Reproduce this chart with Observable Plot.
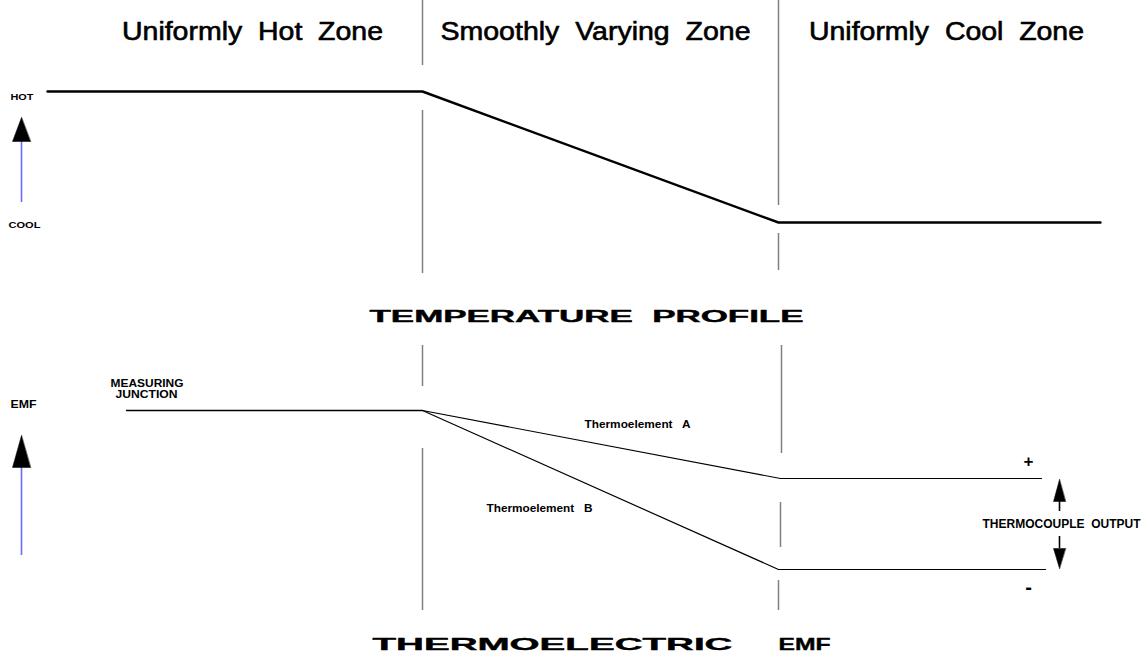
<!DOCTYPE html>
<html>
<head>
<meta charset="utf-8">
<script src="https://cdn.jsdelivr.net/npm/d3@7"></script>
<script src="https://cdn.jsdelivr.net/npm/@observablehq/plot@0.6"></script>
<style>
  html, body { margin: 0; padding: 0; background: #fff; }
  svg text { white-space: pre; }
</style>
</head>
<body>
<div id="chart"></div>
<script>
// ---- Data (diagram units) ----
const zoneLabels  = ["Uniformly  Hot  Zone", "Smoothly  Varying  Zone", "Uniformly  Cool  Zone"];
const zoneCenterX = [252, 595, 946];
const zoneLabelWidths = [261, 310, 275];

// zone boundary dashes: [x, y1, y2]
const boundaryA = [[422, 0, 65], [422, 110, 273], [422, 345, 386], [422, 448, 610]];
const boundaryB = [[778, 0, 205], [778, 233, 270], [781, 345, 453], [780, 502, 547], [778, 580, 610]];

// temperature profile
const tempX = [47, 422, 778, 1100];
const tempY = [91, 91, 222, 222];

// EMF profiles
const junctionX = [126, 422];
const junctionY = [410, 410];
const elemAX = [422, 780, 1041];
const elemAY = [410, 478, 478];
const elemBX = [422, 778, 1045];
const elemBY = [410, 569, 569];

// arrows: [x, tipY, baseY, stemEndY, halfWidth]
const axisArrows   = [[21, 117, 141, 202, 9], [21, 435, 467, 555, 9]];
const outputArrows = [[1059, 479, 501, 511, 6], [1059, 568, 548, 536, 6]];

// text labels: [text, x, y, size, width]
const smallLabels = [
  ["HOT", 21.5, 97, 8.5, 23],
  ["COOL", 24, 225, 8.5, 32],
  ["EMF", 23, 404, 11, 26],
  ["MEASURING", 146.5, 383, 11, 73],
  ["JUNCTION", 146, 394, 11, 62],
  ["Thermoelement   A", 637, 424, 10, 106],
  ["Thermoelement   B", 539, 508, 10, 106],
  ["THERMOCOUPLE  OUTPUT", 1061, 523, 12.5, 158],
  ["+", 1028, 461, 17, 0],
  ["-", 1028, 587, 20, 0]
];
const titles = [
  ["TEMPERATURE  PROFILE", 586, 316, 16, 434],
  ["THERMOELECTRIC", 552, 644, 17, 360],
  ["EMF", 804, 644, 17, 52]
];

// ---- build tables ----
const pts = (xs, ys, name) => xs.map((x, i) => ({x, y: ys[i], name}));
const boundaries = [...boundaryA, ...boundaryB].map(([x, y1, y2]) => ({x, y1, y2}));
const heads = [];
const stems = [];
[...axisArrows.map(a => [...a, "axis"]), ...outputArrows.map(a => [...a, "out"])].forEach(([x, tip, base, end, hw, kind], i) => {
  heads.push({x: x, y: tip, id: i}, {x: x - hw, y: base, id: i}, {x: x + hw, y: base, id: i});
  stems.push({x, y1: base, y2: end, kind});
});
const zoneTable = zoneLabels.map((t, i) => ({t, x: zoneCenterX[i], y: 31, w: zoneLabelWidths[i]}));
const smallTable = smallLabels.map(([t, x, y, s, w]) => ({t, x, y, s, w}));
const titleTable = titles.map(([t, x, y, s, w]) => ({t, x, y, s, w}));

const chart = Plot.plot({
  width: 1146,
  height: 658,
  margin: 0,
  x: {domain: [0, 1146], axis: null},
  y: {domain: [0, 658], range: [0, 658], axis: null},
  style: {fontFamily: "Liberation Sans, Arial, sans-serif", background: "#fff"},
  marks: [
    Plot.ruleX(boundaries, {x: "x", y1: "y1", y2: "y2", stroke: "#808080", strokeWidth: 1.5}),
    Plot.line(pts(tempX, tempY, "temp"), {x: "x", y: "y", stroke: "black", strokeWidth: 2.4}),
    Plot.line(pts(junctionX, junctionY, "j"), {x: "x", y: "y", stroke: "black", strokeWidth: 1.3}),
    Plot.line(pts(elemAX, elemAY, "A"), {x: "x", y: "y", stroke: "black", strokeWidth: 1.2}),
    Plot.line(pts(elemBX, elemBY, "B"), {x: "x", y: "y", stroke: "black", strokeWidth: 1.2}),
    Plot.ruleX(stems, {x: "x", y1: "y1", y2: "y2", stroke: d => d.kind === "axis" ? "#6b6bff" : "black", strokeWidth: 1.6}),
    Plot.line(heads, {x: "x", y: "y", z: "id", fill: "black", stroke: "black", strokeWidth: 0.5, curve: "linear-closed"}),
    Plot.text(zoneTable, {x: "x", y: "y", text: "t", fontSize: 25, fill: "black", stroke: "black", strokeWidth: 0.6, fontWeight: "normal"}),
    Plot.text(smallTable, {x: "x", y: "y", text: "t", fontSize: "s", fontWeight: "bold", fill: "black"}),
    Plot.text(titleTable, {x: "x", y: "y", text: "t", fontSize: "s", fontWeight: "bold", fill: "black", stroke: "black", strokeWidth: 0.4})
  ]
});

// stretch texts to their measured widths (groups in mark order, texts in data order)
const tables = [zoneTable, smallTable, titleTable];
chart.querySelectorAll('g[aria-label="text"]').forEach((g, gi) => {
  g.querySelectorAll("text").forEach((el, j) => {
    const row = tables[gi] && tables[gi][j];
    if (row && row.w) {
      el.setAttribute("textLength", row.w);
      el.setAttribute("lengthAdjust", "spacingAndGlyphs");
    }
  });
});
document.getElementById("chart").appendChild(chart);
</script>
</body>
</html>
